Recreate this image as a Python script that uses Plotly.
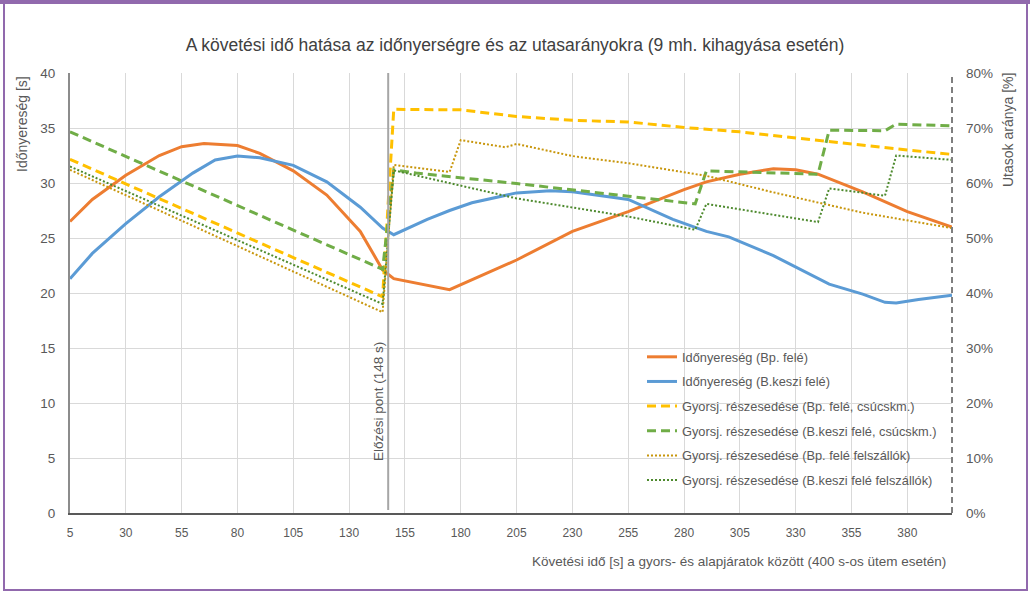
import plotly.graph_objects as go

# ---------------- data ----------------
# Időnyereség (Bp. felé) [s]
bp_time_x = [5, 15, 30, 45, 55, 65, 80, 90, 105, 120, 135, 145, 150, 175, 205, 230, 255, 280, 290, 305, 320, 330, 340, 360, 380, 400]
bp_time_y = [26.5, 28.5, 30.7, 32.5, 33.3, 33.6, 33.4, 32.7, 31.1, 28.9, 25.6, 22.1, 21.3, 20.3, 23.0, 25.6, 27.4, 29.4, 30.1, 30.8, 31.3, 31.2, 30.8, 29.2, 27.4, 26.0]

# Időnyereség (B.keszi felé) [s]
bk_time_x = [5, 15, 30, 45, 60, 70, 80, 90, 105, 120, 135, 145, 150, 165, 175, 185, 205, 220, 230, 255, 275, 290, 300, 320, 345, 360, 370, 375, 385, 400]
bk_time_y = [21.3, 23.6, 26.3, 28.75, 30.9, 32.1, 32.45, 32.3, 31.6, 30.1, 27.8, 25.9, 25.3, 26.7, 27.5, 28.2, 29.1, 29.3, 29.2, 28.5, 26.7, 25.6, 25.1, 23.4, 20.8, 19.9, 19.15, 19.1, 19.4, 19.8]

# Gyorsj. részesedése (Bp. felé, csúcskm.) [%]
bp_peak_x = [5, 145, 150, 180, 205, 230, 255, 280, 305, 330, 355, 380, 400]
bp_peak_y = [64.3, 39.3, 73.4, 73.3, 72.1, 71.4, 71.1, 70.1, 69.3, 68.2, 67.0, 66.0, 65.2]

# Gyorsj. részesedése (B.keszi felé, csúcskm.) [%]
bk_peak_x = [5, 145, 150, 160, 205, 230, 255, 285, 290, 340, 345, 370, 375, 400]
bk_peak_y = [69.3, 44.3, 62.4, 61.8, 59.9, 58.8, 57.6, 56.2, 62.2, 61.6, 69.6, 69.5, 70.7, 70.4]

# Gyorsj. részesedése (Bp. felé felszállók) [%]
bp_board_x = [5, 145, 150, 175, 180, 200, 205, 230, 255, 290, 320, 360, 400]
bp_board_y = [62.4, 36.5, 63.3, 62.0, 67.8, 66.5, 67.1, 64.9, 63.6, 61.3, 58.3, 54.6, 51.8]

# Gyorsj. részesedése (B.keszi felé felszállók) [%]
bk_board_x = [5, 145, 150, 205, 255, 285, 290, 340, 345, 370, 375, 400]
bk_board_y = [63.0, 38.0, 62.3, 57.2, 53.9, 51.5, 56.2, 52.9, 59.0, 57.7, 65.0, 64.2]

x_ticks = [5, 30, 55, 80, 105, 130, 155, 180, 205, 230, 255, 280, 305, 330, 355, 380]
overtake_s = 148

names = [
    "Időnyereség (Bp. felé)",
    "Időnyereség (B.keszi felé)",
    "Gyorsj. részesedése (Bp. felé, csúcskm.)",
    "Gyorsj. részesedése (B.keszi felé, csúcskm.)",
    "Gyorsj. részesedése (Bp. felé felszállók)",
    "Gyorsj. részesedése (B.keszi felé felszállók)",
]

# ---------------- figure ----------------
FONT = "Liberation Sans, Arial, sans-serif"
W, H = 1030, 597
L, R, T, B = 70, 78, 73, 84
PW, PH = W - L - R, H - T - B


def px_x(px):
    return (px - L) / PW


def px_y(py):
    return (H - B - py) / PH


fig = go.Figure()

series = [
    (bp_time_x, bp_time_y, "y", dict(color="#ED7D31", width=3)),
    (bk_time_x, bk_time_y, "y", dict(color="#5B9BD5", width=3)),
    (bp_peak_x, bp_peak_y, "y2", dict(color="#FFC000", width=3, dash="9px,5px")),
    (bk_peak_x, bk_peak_y, "y2", dict(color="#70AD47", width=3, dash="9px,5px")),
    (bp_board_x, bp_board_y, "y2", dict(color="#C8960C", width=2, dash="2px,2px")),
    (bk_board_x, bk_board_y, "y2", dict(color="#4E8A2E", width=2, dash="2px,2px")),
]
for i, (xs, ys, ax, line) in enumerate(series):
    fig.add_trace(go.Scatter(x=xs, y=ys, yaxis=ax, mode="lines", name=names[i],
                             line=line, legendgroup=f"g{i}"))

fig.update_layout(
    width=W, height=H,
    margin=dict(l=L, r=R, t=T, b=B),
    paper_bgcolor="white", plot_bgcolor="white",
    font=dict(family=FONT, size=12, color="#595959"),
    title=dict(text="A követési idő hatása az időnyerségre és az utasarányokra (9 mh. kihagyása esetén)",
               x=0.5, xanchor="center", y=1 - 45 / H, yanchor="middle",
               font=dict(family=FONT, size=17.5, color="#404040")),
    xaxis=dict(range=[5, 400], tickvals=x_ticks, showgrid=True, gridcolor="#D9D9D9", gridwidth=1,
               showline=True, linecolor="#595959", linewidth=2, zeroline=False,
               ticks="", ticklabelstandoff=8, tickfont=dict(size=12, color="#595959")),
    yaxis=dict(range=[0, 40], dtick=5, showgrid=True, gridcolor="#D9D9D9", gridwidth=1,
               showline=True, linecolor="#8C8C8C", linewidth=2, zeroline=False,
               ticks="", ticklabelstandoff=10, tickfont=dict(size=13.5, color="#595959")),
    yaxis2=dict(range=[0, 80], dtick=10, ticksuffix="%", overlaying="y", side="right",
                showgrid=False, showline=False, zeroline=False, ticks="", ticklabelstandoff=13,
                tickfont=dict(size=13.5, color="#595959")),
    legend=dict(x=px_x(642), y=px_y(342), xanchor="left", yanchor="top",
                bgcolor="rgba(0,0,0,0)", tracegroupgap=5, traceorder="grouped",
                font=dict(family=FONT, size=12.8, color="#595959")),
    showlegend=True,
)

# right dashed axis line
fig.add_shape(type="line", xref="paper", yref="paper", x0=1, x1=1, y0=0, y1=1,
              line=dict(color="#7F7F7F", width=2, dash="6px,4px"))
# overtaking point line
fig.add_shape(type="line", xref="x", yref="paper", x0=overtake_s - 0.5, x1=overtake_s - 0.5,
              y0=px_y(510), y1=1, line=dict(color="#A6A6A6", width=2))
fig.add_annotation(text="Előzési pont (148 s)", xref="paper", yref="paper",
                   x=px_x(378), y=px_y(402), textangle=-90, showarrow=False,
                   xanchor="center", yanchor="middle", font=dict(size=13.5, color="#595959"))

# axis titles
fig.add_annotation(text="Időnyereség [s]", xref="paper", yref="paper", x=px_x(22), y=px_y(74),
                   textangle=-90, showarrow=False, xanchor="center", yanchor="top",
                   font=dict(size=14, color="#595959"))
fig.add_annotation(text="Utasok aránya [%]", xref="paper", yref="paper", x=px_x(1008), y=px_y(71),
                   textangle=-90, showarrow=False, xanchor="center", yanchor="top",
                   font=dict(size=14, color="#595959"))
fig.add_annotation(text="Követési idő [s] a gyors- és alapjáratok között (400 s-os ütem esetén)",
                   xref="paper", yref="paper", x=px_x(948), y=px_y(561), showarrow=False,
                   xanchor="right", yanchor="middle", font=dict(size=13.5, color="#595959"))

# outer purple frame
PURPLE = "#9169AD"
fig.add_shape(type="rect", xref="paper", yref="paper", x0=px_x(4), x1=px_x(1027),
              y0=px_y(590), y1=px_y(2), line=dict(color=PURPLE, width=2), layer="below")
fig.add_shape(type="rect", xref="paper", yref="paper", x0=px_x(0), x1=px_x(1030),
              y0=px_y(4), y1=px_y(0), line=dict(width=0), fillcolor=PURPLE)

fig.write_html("out.html", config={"displayModeBar": False},
               post_script="document.body.style.margin='0';document.body.style.overflow='hidden';")
